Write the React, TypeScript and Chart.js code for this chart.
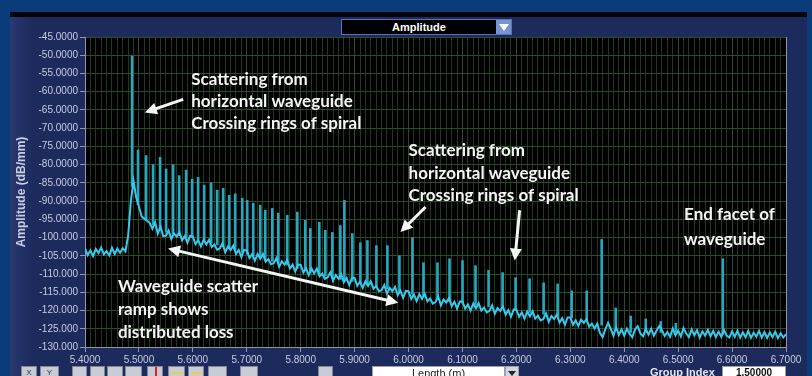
import React, { useEffect, useRef } from 'react';
import { Chart, registerables } from 'chart.js';

Chart.register(...registerables);

const X_MIN = 5.4;
const X_MAX = 6.7;
const Y_MIN = -130;
const Y_MAX = -45;

// noise floor of the trace, sampled every 0.005 m starting at 5.400 m
const floorStart = 5.4;
const floorStep = 0.005;
const floorValues: number[] = [
  -102.9, -104.8, -103.5, -105.1, -103.1, -104.2, -102.7, -104.6, -103.7, -104.9,
  -102.8, -104.5, -103.0, -104.2, -102.9, -103.8, -99.5, -90.0, -84.5, -89.0,
  -91.5, -94.2, -94.8, -95.4, -96.0, -97.6, -95.8, -98.9, -97.0, -99.6,
  -99.5, -98.1, -100.4, -98.9, -99.7, -98.5, -100.7, -99.6, -101.4, -99.5,
  -99.7, -101.8, -100.7, -102.4, -100.6, -101.9, -100.6, -102.6, -101.9, -103.3,
  -103.0, -101.6, -104.0, -102.5, -103.4, -102.2, -104.5, -103.4, -105.3, -103.4,
  -103.5, -105.6, -104.5, -106.3, -104.5, -105.8, -104.5, -106.6, -105.9, -107.3,
  -107.0, -105.6, -108.0, -106.5, -107.4, -106.2, -108.5, -107.4, -109.3, -107.4,
  -107.5, -109.6, -108.5, -110.3, -108.5, -109.8, -108.5, -110.6, -109.9, -111.3,
  -110.9, -109.5, -111.9, -110.3, -111.2, -110.0, -112.3, -111.1, -113.0, -111.1,
  -111.1, -113.2, -112.1, -113.8, -112.0, -113.3, -112.0, -114.0, -113.3, -114.7,
  -114.4, -113.0, -115.4, -113.8, -114.7, -113.5, -115.8, -114.6, -116.5, -114.6,
  -114.7, -116.8, -115.6, -117.4, -115.5, -116.8, -115.4, -117.5, -116.7, -118.1,
  -117.7, -116.2, -118.6, -117.0, -117.8, -116.6, -118.8, -117.6, -119.5, -117.5,
  -117.5, -119.5, -118.3, -120.0, -118.1, -119.4, -118.0, -120.0, -119.2, -120.5,
  -120.1, -118.6, -120.9, -119.3, -120.1, -118.9, -121.1, -119.9, -121.7, -119.7,
  -119.7, -121.7, -120.5, -122.2, -120.3, -121.6, -120.2, -122.2, -121.4, -122.7,
  -122.3, -120.8, -123.1, -121.5, -122.3, -121.1, -123.3, -122.1, -123.9, -121.9,
  -121.9, -123.9, -122.7, -124.2, -122.5, -123.4, -122.4, -124.4, -123.6, -124.9,
  -123.6, -126.2, -127.3, -125.1, -123.4, -125.0, -126.9, -124.6, -126.7, -125.2,
  -126.9, -125.0, -126.4, -127.3, -125.2, -124.3, -126.3, -127.1, -125.1, -126.6,
  -125.0, -126.9, -125.5, -124.2, -125.4, -127.0, -125.9, -127.2, -124.9, -126.8,
  -125.5, -127.1, -124.8, -126.3, -127.3, -125.2, -126.8, -125.4, -127.4, -125.7,
  -126.9, -125.3, -127.1, -125.6, -127.3, -125.8, -127.2, -125.4, -126.9, -127.4,
  -125.7, -127.2, -125.5, -127.4, -126.0, -127.3, -125.6, -127.5, -126.1, -127.2,
  -125.6, -127.4, -125.9, -127.5, -126.0, -127.3, -125.8, -127.6, -126.2, -127.4,
  -126.5,
];

// reflection spikes: position (m), peak (dB/mm), foot (dB/mm)
const spikePositions: number[] = [
  5.4873, 5.4984, 5.5133, 5.5263, 5.5393, 5.5504, 5.5634, 5.5746, 5.5876, 5.5987,
  5.6098, 5.621, 5.634, 5.6451, 5.6563, 5.6674, 5.6786, 5.6916, 5.7008, 5.712,
  5.725, 5.7343, 5.7473, 5.7584, 5.7751, 5.7937, 5.8085, 5.8178, 5.8345, 5.8457,
  5.8587, 5.8735, 5.881, 5.8958, 5.9107, 5.9237, 5.9404, 5.9608, 5.9831, 6.0072,
  6.0277, 6.0537, 6.076, 6.1001, 6.1242, 6.1484, 6.1744, 6.1985, 6.2245, 6.2505,
  6.2765, 6.3025, 6.3304, 6.3582, 6.3842, 6.4121, 6.4399, 6.4678, 6.4957, 6.5829,
];
const spikeTops: number[] = [
  -50.2, -76.0, -77.5, -80.0, -78.0, -81.2, -80.0, -83.0, -81.5, -84.0,
  -83.5, -85.6, -85.0, -87.0, -86.5, -88.4, -88.0, -89.2, -89.8, -90.6,
  -91.1, -92.5, -92.0, -93.3, -93.9, -93.0, -95.3, -97.5, -95.8, -98.0,
  -98.6, -96.7, -89.8, -98.9, -101.4, -100.8, -102.2, -102.2, -105.0, -100.0,
  -106.9, -106.9, -105.8, -106.3, -107.7, -109.0, -109.6, -111.0, -111.3, -112.4,
  -112.7, -114.6, -114.6, -100.5, -119.3, -121.5, -122.3, -123.0, -123.5, -105.8,
];
const spikeBases: number[] = [
  -86.0, -91.0, -95.0, -96.5, -97.5, -98.5, -99.0, -99.5, -100.0, -100.0,
  -100.5, -101.0, -101.5, -102.0, -102.5, -103.0, -103.5, -104.0, -104.5, -105.0,
  -105.5, -106.0, -106.5, -107.0, -107.5, -108.5, -109.0, -109.5, -110.0, -110.5,
  -111.0, -111.5, -111.5, -112.0, -112.5, -113.0, -113.5, -114.0, -115.0, -115.5,
  -116.0, -117.0, -117.5, -118.0, -118.5, -119.0, -119.5, -120.0, -120.5, -121.0,
  -121.5, -122.0, -122.5, -124.0, -125.5, -126.0, -126.0, -126.0, -126.0, -126.5,
];

const yAxisTitle = 'Amplitude (dB/mm)';

// annotations (in data units)
const notes = [
  { x: 5.597, ys: [-56.6, -62.7, -68.7], lines: ['Scattering from', 'horizontal waveguide', 'Crossing rings of spiral'] },
  { x: 6.0, ys: [-76.2, -82.5, -88.6], lines: ['Scattering from', 'horizontal waveguide', 'Crossing rings of spiral'] },
  { x: 5.461, ys: [-113.4, -119.8, -126.1], lines: ['Waveguide scatter', 'ramp shows', 'distributed loss'] },
  { x: 6.511, ys: [-93.8, -100.5], lines: ['End facet of', 'waveguide'] },
];
const arrows = [
  { from: [5.582, -62.1], to: [5.511, -65.7], both: false },
  { from: [6.0314, -91.6], to: [5.985, -98.5], both: false },
  { from: [6.206, -92.5], to: [6.197, -106.3], both: false },
  { from: [5.554, -103.0], to: [5.981, -117.9], both: true },
];

const isMajor = (v: number) => Math.abs(v * 10 - Math.round(v * 10)) < 1e-6;
const fmtY = (v: number) => (Math.abs(v) >= 100 ? v.toFixed(3) : v.toFixed(4));

function head(ctx: CanvasRenderingContext2D, x1: number, y1: number, x2: number, y2: number) {
  const a = Math.atan2(y2 - y1, x2 - x1);
  const len = 12;
  const w = 6;
  ctx.beginPath();
  ctx.moveTo(x2, y2);
  ctx.lineTo(x2 - len * Math.cos(a) + w * Math.sin(a), y2 - len * Math.sin(a) - w * Math.cos(a));
  ctx.lineTo(x2 - len * Math.cos(a) - w * Math.sin(a), y2 - len * Math.sin(a) + w * Math.cos(a));
  ctx.closePath();
  ctx.fill();
}

const backgroundPlugin = {
  id: 'plotBackground',
  beforeDraw(chart: any) {
    const { ctx, chartArea: a } = chart;
    ctx.save();
    ctx.fillStyle = '#000000';
    ctx.fillRect(a.left, a.top, a.right - a.left, a.bottom - a.top);
    ctx.restore();
  },
  afterDraw(chart: any) {
    const { ctx, chartArea: a } = chart;
    ctx.save();
    ctx.strokeStyle = '#8e96b2';
    ctx.lineWidth = 1;
    ctx.beginPath();
    ctx.moveTo(Math.round(a.right) + 0.5, a.top);
    ctx.lineTo(Math.round(a.right) + 0.5, a.bottom);
    ctx.stroke();
    ctx.restore();
  },
};

const annotationPlugin = {
  id: 'notes',
  afterDatasetsDraw(chart: any) {
    const { ctx } = chart;
    const xs = chart.scales.x;
    const ys = chart.scales.y;
    ctx.save();
    ctx.fillStyle = '#f5f5f5';
    ctx.strokeStyle = '#f5f5f5';
    ctx.lineWidth = 3;
    for (const ar of arrows) {
      const x1 = xs.getPixelForValue(ar.from[0]);
      const y1 = ys.getPixelForValue(ar.from[1]);
      const x2 = xs.getPixelForValue(ar.to[0]);
      const y2 = ys.getPixelForValue(ar.to[1]);
      const a = Math.atan2(y2 - y1, x2 - x1);
      const sx = ar.both ? x1 + 8 * Math.cos(a) : x1;
      const sy = ar.both ? y1 + 8 * Math.sin(a) : y1;
      ctx.beginPath();
      ctx.moveTo(sx, sy);
      ctx.lineTo(x2 - 8 * Math.cos(a), y2 - 8 * Math.sin(a));
      ctx.stroke();
      head(ctx, x1, y1, x2, y2);
      if (ar.both) head(ctx, x2, y2, x1, y1);
    }
    ctx.font = 'bold 17px Lato, "Open Sans", sans-serif';
    ctx.textBaseline = 'middle';
    ctx.textAlign = 'left';
    for (const n of notes) {
      const px = xs.getPixelForValue(n.x);
      n.lines.forEach((t, i) => {
        ctx.fillText(t, px, ys.getPixelForValue(n.ys[i]));
      });
    }
    ctx.restore();
  },
};

const toolButtons = [
  [21, 16], [40, 19], [72, 15], [90, 15], [107, 16], [125, 17], [147, 16], [168, 17], [188, 16], [208, 19], [240, 18], [318, 15],
];

export default function App() {
  const ref = useRef<HTMLCanvasElement | null>(null);

  useEffect(() => {
    if (!ref.current) return;
    const floorData = floorValues.map((y, i) => ({ x: floorStart + i * floorStep, y }));
    const spikeData = spikePositions.map((x, i) => ({ x, y: [spikeBases[i], spikeTops[i]] }));
    const tickFont = { family: '"Liberation Sans", Arial, sans-serif', size: 10 };
    const chart = new Chart(ref.current, {
      type: 'line',
      data: {
        datasets: [
          {
            type: 'line',
            data: floorData as any,
            borderColor: '#3ac9ec',
            borderWidth: 2,
            pointRadius: 0,
            tension: 0,
            order: 0,
          } as any,
          {
            type: 'bar',
            data: spikeData as any,
            backgroundColor: '#27a6c0',
            borderWidth: 0,
            barThickness: 2,
            grouped: false,
            order: 1,
          } as any,
        ],
      },
      options: {
        animation: false,
        responsive: false,
        devicePixelRatio: 1,
        events: [],
        layout: { padding: { left: 10, top: 37, right: 26, bottom: 0 } },
        plugins: { legend: { display: false }, tooltip: { enabled: false }, title: { display: false } },
        scales: {
          x: {
            type: 'linear',
            min: X_MIN,
            max: X_MAX,
            offset: false,
            ticks: {
              stepSize: 0.01,
              maxTicksLimit: 500,
              autoSkip: false,
              maxRotation: 0,
              minRotation: 0,
              padding: 2,
              color: '#c6cce0',
              font: tickFont,
              callback: (v: any) => (isMajor(Number(v)) ? Number(v).toFixed(4) : ''),
            },
            grid: {
              offset: false,
              color: (c: any) => (c.tick && isMajor(c.tick.value) ? '#2e4c2a' : '#213a1e'),
              tickColor: (c: any) => (c.tick && isMajor(c.tick.value) ? '#8e96b2' : 'rgba(0,0,0,0)'),
              tickLength: 5,
              lineWidth: 1,
            },
            border: { color: '#8e96b2' },
            afterFit: (s: any) => {
              s.height = 29;
              s.paddingLeft = 0;
              s.paddingRight = 0;
            },
          },
          y: {
            type: 'linear',
            min: Y_MIN,
            max: Y_MAX,
            ticks: {
              stepSize: 5,
              padding: 2,
              color: '#c6cce0',
              font: tickFont,
              callback: (v: any) => fmtY(Number(v)),
            },
            grid: { color: '#2e4c2a', tickColor: '#8e96b2', tickLength: 5, lineWidth: 1 },
            border: { color: '#8e96b2' },
            title: {
              display: true,
              text: yAxisTitle,
              color: '#c8cee2',
              font: { family: '"Liberation Sans", Arial, sans-serif', size: 12, weight: 'bold' },
              padding: { top: 4, bottom: 0 },
            },
            afterFit: (s: any) => {
              s.width = 75;
              s.paddingTop = 0;
              s.paddingBottom = 0;
            },
          },
        },
      } as any,
      plugins: [backgroundPlugin, annotationPlugin],
    });
    return () => chart.destroy();
  }, []);

  return (
    <div
      style={{
        position: 'fixed',
        left: 0,
        top: 0,
        width: 812,
        height: 376,
        overflow: 'hidden',
        background: '#0a3b7b',
        fontFamily: '"Liberation Sans", Arial, sans-serif',
      }}
    >
      <div style={{ position: 'absolute', left: 10, top: 12, width: 797, height: 5, background: '#04060c' }} />
      <div
        style={{
          position: 'absolute',
          left: 10,
          top: 17,
          width: 797,
          height: 359,
          background: 'linear-gradient(90deg, #2c3b70 0px, #24326a 8px, #1d2a5c 24px, #1d2a5c 100%)',
        }}
      />
      <canvas ref={ref} width={812} height={376} style={{ position: 'absolute', left: 0, top: 0, width: 812, height: 376 }} />
      <div
        style={{
          position: 'absolute',
          left: 341,
          top: 19,
          width: 169,
          height: 14,
          border: '1px solid #5a72ba',
          background: '#000',
        }}
      >
        <div
          style={{
            position: 'absolute',
            left: 0,
            top: 0,
            width: 154,
            height: 14,
            lineHeight: '14px',
            textAlign: 'center',
            color: '#fff',
            fontWeight: 'bold',
            fontSize: 11,
          }}
        >
          Amplitude
        </div>
        <div style={{ position: 'absolute', right: 0, top: 0, width: 15, height: 14, background: '#7893d2' }}>
          <div
            style={{
              position: 'absolute',
              left: 3,
              top: 4,
              width: 0,
              height: 0,
              borderLeft: '5px solid transparent',
              borderRight: '5px solid transparent',
              borderTop: '7px solid #fff',
            }}
          />
        </div>
      </div>
      {toolButtons.map(([l, w], i) => (
        <div
          key={i}
          style={{
            position: 'absolute',
            left: l,
            top: 366,
            width: w,
            height: 14,
            background: '#c8ccd6',
            border: '1px solid #7e8698',
            boxSizing: 'border-box',
            fontSize: 8,
            color: '#333',
            lineHeight: '11px',
            textAlign: 'center',
            overflow: 'hidden',
          }}
        >
          {i === 0 ? 'X' : i === 1 ? 'Y' : ''}
          {i === 6 ? <div style={{ position: 'absolute', left: 7, top: 0, width: 2, height: 14, background: '#d22' }} /> : null}
          {i === 7 ? <div style={{ position: 'absolute', left: 2, top: 5, width: 12, height: 2, background: '#e8d040' }} /> : null}
          {i === 8 ? <div style={{ position: 'absolute', left: 2, top: 5, width: 11, height: 2, background: '#e8d040' }} /> : null}
        </div>
      ))}
      <div
        style={{
          position: 'absolute',
          left: 372,
          top: 366,
          width: 133,
          height: 14,
          background: '#fff',
          border: '1px solid #9aa0b0',
          boxSizing: 'border-box',
          fontSize: 11,
          color: '#222',
          textAlign: 'center',
          lineHeight: '13px',
        }}
      >
        Length (m)
      </div>
      <div
        style={{
          position: 'absolute',
          left: 505,
          top: 366,
          width: 14,
          height: 14,
          background: '#d2d6de',
          border: '1px solid #9aa0b0',
          boxSizing: 'border-box',
        }}
      >
        <div
          style={{
            position: 'absolute',
            left: 2,
            top: 4,
            width: 0,
            height: 0,
            borderLeft: '4px solid transparent',
            borderRight: '4px solid transparent',
            borderTop: '5px solid #222',
          }}
        />
      </div>
      <div
        style={{
          position: 'absolute',
          left: 650,
          top: 366,
          fontSize: 11,
          fontWeight: 'bold',
          color: '#e4e7f2',
          lineHeight: '13px',
          whiteSpace: 'nowrap',
        }}
      >
        Group Index
      </div>
      <div
        style={{
          position: 'absolute',
          left: 722,
          top: 366,
          width: 64,
          height: 14,
          background: '#fff',
          border: '1px solid #9aa0b0',
          boxSizing: 'border-box',
          fontSize: 10,
          fontWeight: 'bold',
          color: '#111',
          textAlign: 'center',
          lineHeight: '12px',
        }}
      >
        1.50000
      </div>
    </div>
  );
}
